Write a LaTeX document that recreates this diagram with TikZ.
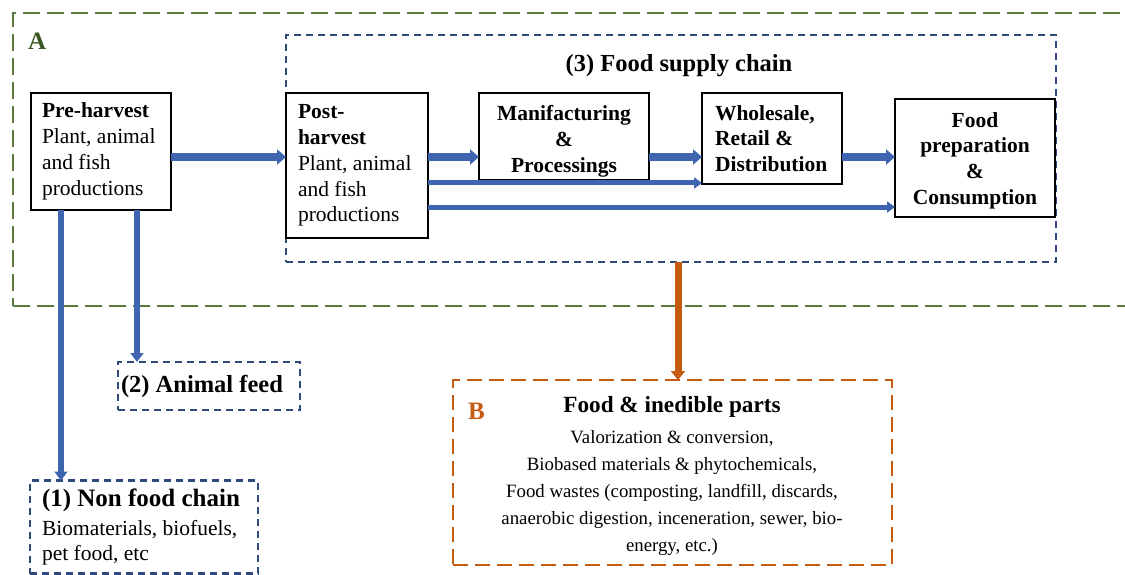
\documentclass[tikz,border=0pt]{standalone}
\usepackage{fontspec}
\setmainfont{Liberation Serif}
\usetikzlibrary{arrows.meta,calc}
\definecolor{arrblue}{RGB}{63,101,176}
\definecolor{dblue}{RGB}{47,75,125}
\definecolor{dgreen}{RGB}{88,122,60}
\definecolor{agreen}{RGB}{56,87,35}
\definecolor{orng}{RGB}{197,90,17}
\begin{document}
\begin{tikzpicture}[x=1pt,y=-1pt,
  every node/.style={inner sep=0pt, outer sep=0pt},
  box/.style={draw=black, line width=1.8pt, inner xsep=12pt, fill=white},
  bodyfont/.style={font=\fontsize{21.5}{25.8}\selectfont},
  bfont/.style={font=\fontsize{21.5}{25.8}\selectfont\bfseries},
  dbox/.style={draw=dblue, line width=2.2pt, dash pattern=on 7pt off 5pt},
  gbox/.style={draw=dgreen, line width=2.4pt, dash pattern=on 17pt off 7pt},
  obox/.style={draw=orng, line width=2.4pt, dash pattern=on 15pt off 7pt},
  arr/.style={draw=arrblue, line width=8pt, -{Triangle[width=15pt,length=9pt]}},
  thinarr/.style={draw=arrblue, line width=5pt, -{Triangle[width=11pt,length=8pt]}},
  downarr/.style={draw=arrblue, line width=6.5pt, -{Triangle[width=13pt,length=9pt]}},
  oarr/.style={draw=orng, line width=7pt, -{Triangle[width=14pt,length=9pt]}},
]
\useasboundingbox (0,0) rectangle (1125,575);
\clip (0,0) rectangle (1125,575);

% outer green region A
\node[gbox, minimum width=1127pt, minimum height=293pt] (Abox) at (576.5,159.5) {};
\node[anchor=base west, text=agreen, font=\fontsize{25}{28}\selectfont\bfseries] (Alab) at (28,50) {A};

% food supply chain region
\node[dbox, minimum width=770pt, minimum height=227pt] (fsc) at (671,148.5) {};
\node[anchor=base, font=\fontsize{24.5}{28}\selectfont\bfseries] (fsctitle) at (679,72) {(3) Food supply chain};

% boxes
\node[box, bodyfont, align=flush left, text width=118pt, inner xsep=11pt, minimum height=117pt] (pre) at (101,151.5)
  {\textbf{Pre-harvest}\\Plant, animal\\and fish\\productions};
\node[box, bodyfont, align=flush left, text width=118pt, minimum height=145pt] (post) at (357,165.5)
  {\textbf{Post-}\\\textbf{harvest}\\Plant, animal\\and fish\\productions};
\node[box, bfont, align=flush center, text width=146pt, minimum height=87pt] (man) at (564,136.5)
  {\rule{0pt}{25pt}Manifacturing\\\&\\Processings};
\node[box, bfont, align=flush left, text width=114pt, inner xsep=13pt, minimum height=91pt] (ws) at (772,138.5)
  {Wholesale,\\Retail \&\\Distribution};
\node[box, bfont, align=flush center, text width=136pt, minimum height=118pt] (food) at (975,158)
  {\rule{0pt}{20pt}Food\\preparation\\\&\\Consumption};

% lower boxes
\node[dbox, font=\fontsize{24.5}{28}\selectfont\bfseries, align=flush left, text width=176pt, inner xsep=3pt, minimum height=48pt] (feed) at (209,386) {(2) Animal feed};
\node[dbox, align=flush left, text width=204pt, inner xsep=12pt, minimum height=93pt, font=\fontsize{21.5}{25.5}\selectfont] (nf) at (144,527)
  {{\fontsize{25}{28}\selectfont\bfseries (1) Non food chain}\\[3pt]Biomaterials, biofuels,\\pet food, etc};

\node[obox, minimum width=439pt, minimum height=185pt] (B) at (672.5,472.5) {};
\node[anchor=base west, text=orng, font=\fontsize{25}{28}\selectfont\bfseries] (Blab) at (468,419) {B};
\node[anchor=base, font=\fontsize{23.2}{27}\selectfont\bfseries] (Btitle) at (672,412) {Food \& inedible parts};
\node[align=flush center, font=\fontsize{18.8}{26.8}\selectfont] (Bbody) at (672,493)
  {Valorization \& conversion,\\Biobased materials \& phytochemicals,\\Food wastes (composting, landfill, discards,\\anaerobic digestion, inceneration, sewer, bio-\\energy, etc.)};

% connectors
\draw[arr] ([yshift=-5.5pt]pre.east) coordinate (c1) -- (c1 -| post.west);
\draw[arr] ([yshift=8.5pt]post.east) coordinate (c2) -- (c2 -| man.west);
\draw[thinarr] ([yshift=-17.5pt]post.east) coordinate (c3) -- (c3 -| ws.west);
\draw[thinarr] ([yshift=-41.5pt]post.east) coordinate (c4) -- (c4 -| food.west);
\draw[arr] ([yshift=-20.5pt]man.east) coordinate (c5) -- (c5 -| ws.west);
\draw[arr] ([yshift=-18.5pt]ws.east) coordinate (c6) -- (c6 -| food.west);
\draw[downarr] ([xshift=-40pt]pre.south) coordinate (d1) -- (d1 |- nf.north);
\draw[downarr] ([xshift=36pt]pre.south) coordinate (d2) -- (d2 |- feed.north);
\draw[oarr] ([xshift=7pt]fsc.south) coordinate (d3) -- (d3 |- B.north);
\end{tikzpicture}
\end{document}
